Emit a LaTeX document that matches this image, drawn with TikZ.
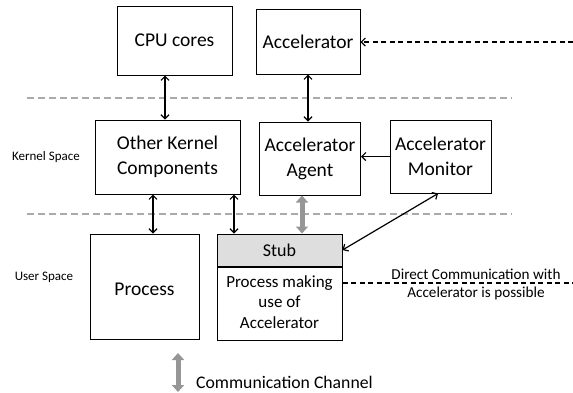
\documentclass[tikz,border=0pt]{standalone}
\usepackage{fontspec}
\setmainfont{Carlito}
\usetikzlibrary{arrows.meta}
\definecolor{sepgray}{RGB}{170,170,170}
\definecolor{chgray}{RGB}{150,150,150}
\definecolor{stubgray}{RGB}{222,222,222}
\tikzset{
  box/.style={draw=black, line width=1pt, inner sep=0pt, align=center, font=\fontsize{19.5}{25}\selectfont},
  lbl/.style={inner sep=0pt, font=\fontsize{13}{15}\selectfont},
  note/.style={inner sep=0pt, font=\fontsize{15.2}{17}\selectfont, align=center},
  arr/.style={line width=1.2pt, {Straight Barb[length=4pt,width=8pt]}-{Straight Barb[length=4pt,width=8pt]}},
  sep/.style={draw=sepgray, line width=2.6pt, dash pattern=on 7pt off 4pt},
  chan/.style={draw=chgray, line width=5pt, {Triangle[width=12pt,length=7pt]}-{Triangle[width=12pt,length=7pt]}}
}
\begin{document}
\begin{tikzpicture}[x=1pt,y=-1pt]
\useasboundingbox (0,0) rectangle (573,392);
% boxes
\node[box, minimum width=115pt, minimum height=69pt] (cpu) at (174.5,40.5) {CPU cores};
\node[box, minimum width=104pt, minimum height=65pt] (acc) at (308,41.5) {Accelerator};
\node[box, minimum width=145pt, minimum height=74pt] (okc) at (167.5,157) {Other Kernel\\Components};
\node[box, minimum width=101pt, minimum height=73pt] (agent) at (310,158.5) {Accelerator\\Agent};
\node[box, minimum width=101pt, minimum height=73pt] (mon) at (440.5,156.5) {Accelerator\\Monitor};
\node[box, minimum width=109pt, minimum height=105pt] (proc) at (144.5,286.5) {};
\node[box, draw=none] (proctext) at (144.5,289) {Process};
\node[box, fill=stubgray, minimum width=125pt, minimum height=32pt, font=\fontsize{18}{22}\selectfont] (stub) at (279.5,250) {Stub};
\node[box, minimum width=125pt, minimum height=73pt, anchor=north] (pmu) at (stub.south) {};
\node[box, draw=none, font=\fontsize{17}{20.5}\selectfont] (pmutext) at (279.5,302) {Process making\\use of\\Accelerator};
% labels
\node[lbl] (ks) at (46,157) {Kernel Space};
\node[lbl] (us) at (44,277) {User Space};
% separators
\coordinate (s1l) at (27,98);
\coordinate (s1r) at (512,98);
\coordinate (s2l) at (27,214);
\coordinate (s2r) at (512,214);
\draw[sep] (s1l) -- (s1r);
\draw[sep] (s2l) -- (s2r);
% arrows
\coordinate (xa) at (165,0);
\coordinate (xb) at (308,0);
\coordinate (xc) at (153,0);
\coordinate (xd) at (234,0);
\coordinate (xe) at (302,0);
\coordinate (xf) at (438,0);
\draw[arr] (cpu.south -| xa) -- (okc.north -| xa);
\draw[arr] (acc.south -| xb) -- (agent.north -| xb);
\draw[line width=1.2pt, -{Straight Barb[length=4pt,width=8pt]}] (mon.west) -- (agent.east |- mon.west);
\draw[arr] (okc.south -| xc) -- (proc.north -| xc);
\draw[arr] (okc.south -| xd) -- (stub.north -| xd);
\draw[chan] (agent.south -| xe) -- (stub.north -| xe);
\draw[arr] (mon.south -| xf) -- (stub.east);
% dashed to accelerator
\coordinate (accR) at (573,42);
\draw[line width=1.2pt, dash pattern=on 5pt off 3.5pt, -{Straight Barb[length=4pt,width=8pt]}] (accR) -- (acc.east |- accR);
% direct communication
\coordinate (dcR) at (573,283);
\draw[line width=1.2pt, dash pattern=on 5pt off 3.5pt] (pmu.east |- dcR) -- (dcR);
\node[note, anchor=south] (dc1) at (476,280) {Direct Communication with};
\node[note, anchor=north] (dc2) at (476,286.5) {Accelerator is possible};
% legend
\coordinate (ch1) at (178,353);
\coordinate (ch2) at (178,392);
\draw[chan] (ch1) -- (ch2);
\node[anchor=west, inner sep=0pt, font=\fontsize{17.7}{20}\selectfont] (cc) at (196,382) {Communication Channel};
\end{tikzpicture}
\end{document}
